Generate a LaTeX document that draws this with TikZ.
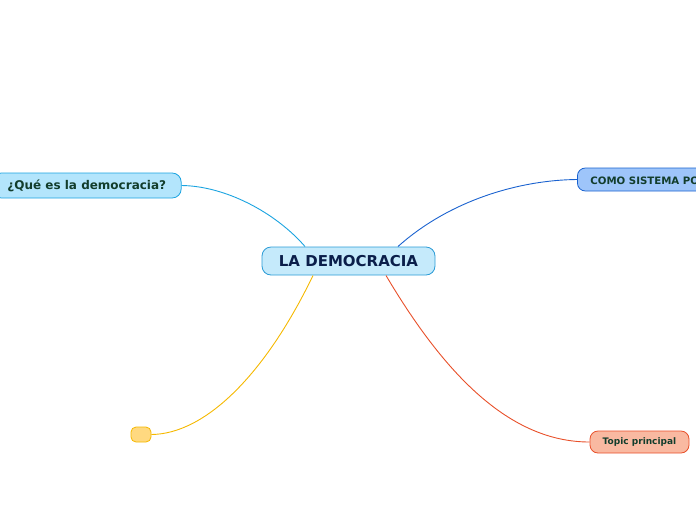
\documentclass[tikz,border=0pt]{standalone}
\usepackage{fontspec}
\setmainfont{DejaVu Sans}
\begin{document}
\begin{tikzpicture}[x=1pt,y=-1pt,
  topic/.style={rounded corners=9pt, draw, line width=0.8pt, inner sep=0pt, font=\bfseries},
  link/.style={line width=0.9pt}]
\useasboundingbox (0,0) rectangle (696,520);
\clip (0,0) rectangle (696,520);
\definecolor{cblue}{HTML}{C5EAFB}
\definecolor{cbluebd}{HTML}{2A9BD6}
\definecolor{lblue}{HTML}{B3E5FC}
\definecolor{lbluebd}{HTML}{1AA3E0}
\definecolor{rblue}{HTML}{9EC5FA}
\definecolor{rbluebd}{HTML}{1A62CF}
\definecolor{salmon}{HTML}{F9B9A1}
\definecolor{salmonbd}{HTML}{E8502A}
\definecolor{yel}{HTML}{FFD980}
\definecolor{yelbd}{HTML}{F5B800}
\definecolor{navy}{HTML}{0A1E4A}
\definecolor{dgreen}{HTML}{123D2C}

\node[topic, fill=cblue, draw=cbluebd, minimum width=173pt, minimum height=28pt, text=navy, font=\bfseries\fontsize{15}{17}\selectfont] (c) at (348.5,261) {LA DEMOCRACIA};
\node[topic, fill=lblue, draw=lbluebd, minimum height=25pt, text=dgreen, font=\bfseries\fontsize{12}{14}\selectfont, anchor=west, inner xsep=15pt] (q) at (-8,185.5) {¿Qué es la democracia?};
\node[topic, rounded corners=8pt, fill=rblue, draw=rbluebd, minimum height=23pt, text=dgreen, font=\bfseries\fontsize{10.2}{12}\selectfont, anchor=west, inner xsep=13pt] (s) at (577,179.5) {COMO SISTEMA POLÍTICO};
\node[topic, rounded corners=8pt, fill=salmon, draw=salmonbd, minimum width=99pt, minimum height=22pt, text=dgreen, font=\bfseries\fontsize{9}{11}\selectfont] (t) at (639.5,442) {Topic principal};
\node[topic, rounded corners=5pt, fill=yel, draw=yelbd, minimum width=20pt, minimum height=15pt] (y) at (141,434.5) {};

\draw[link, draw=lbluebd] (q.east) .. controls (225,186) and (275,212) .. (305,246.5);
\draw[link, draw=rbluebd] (398,246.5) .. controls (450,200) and (520,180) .. (s.west);
\draw[link, draw=yelbd] (313,275.5) .. controls (265,375) and (205,434) .. (y.east);
\draw[link, draw=salmonbd] (386,275.5) .. controls (445,375) and (510,442) .. (t.west);
\end{tikzpicture}
\end{document}
